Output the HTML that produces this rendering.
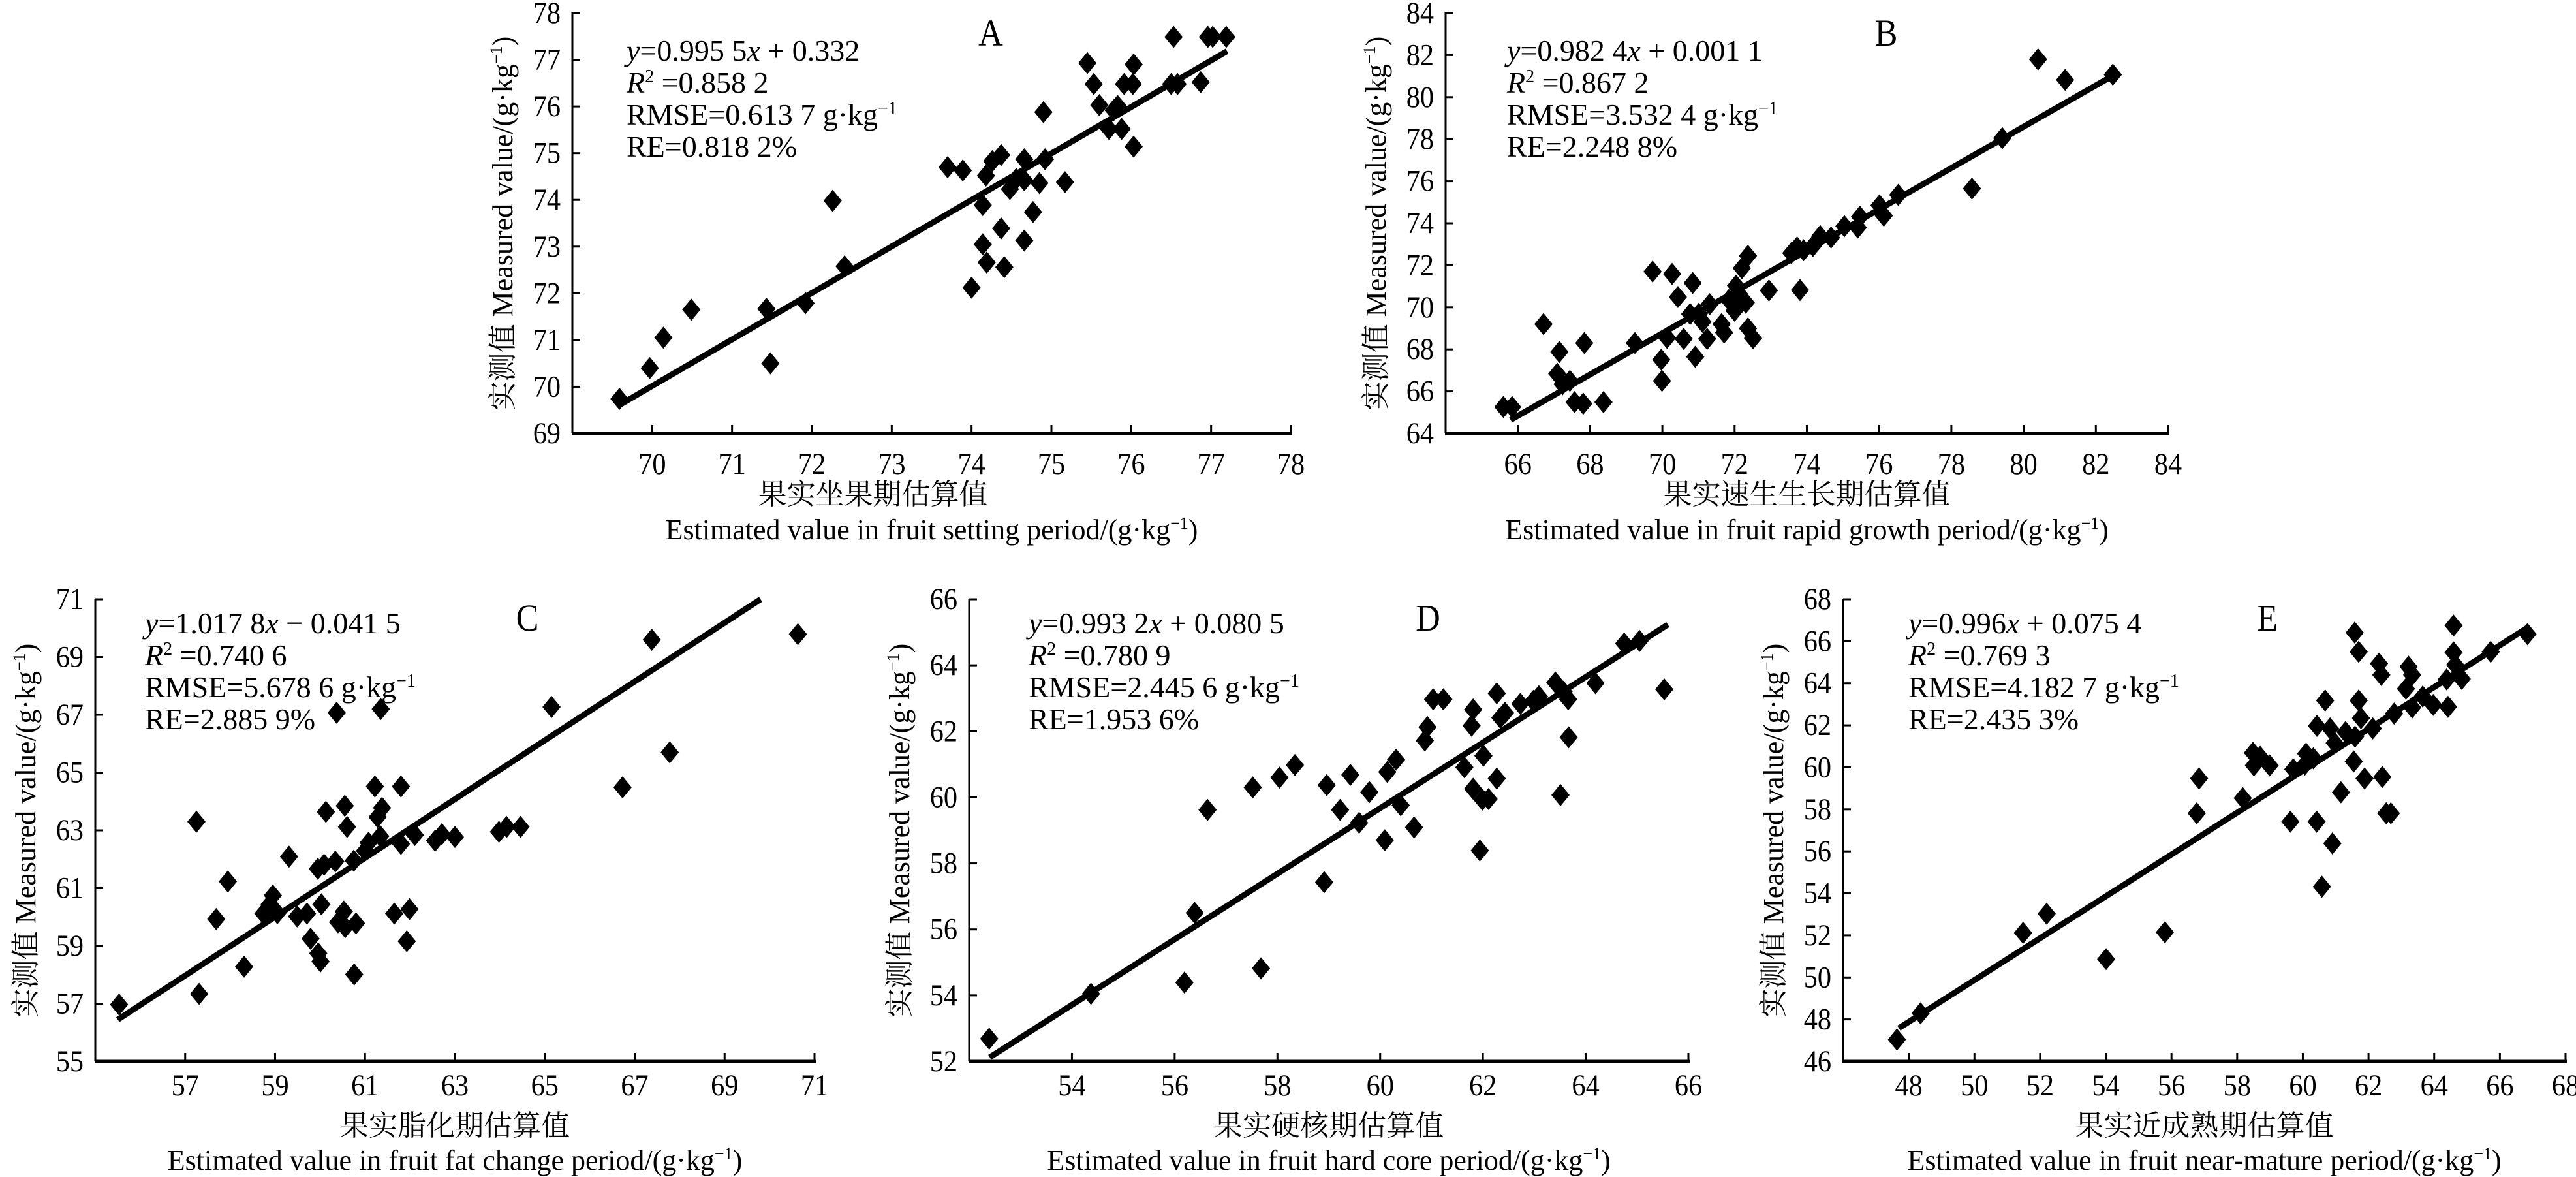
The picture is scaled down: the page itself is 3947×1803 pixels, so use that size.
<!DOCTYPE html>
<html>
<head>
<meta charset="utf-8">
<style>
  html,body{margin:0;padding:0;background:#fff;}
  svg{display:block;}
  text{font-family:"Liberation Serif","Noto Serif CJK SC",serif;fill:#000;}
</style>
</head>
<body>
<svg id="fig" xmlns="http://www.w3.org/2000/svg" width="3947" height="1803" viewBox="0 0 3947 1803">
  <rect x="0" y="0" width="3947" height="1803" fill="#fff"/>
</svg>
<script>
// ---------- data ----------
const aX=[69.59,69.97,70.14,70.49,71.43,71.48,71.92,72.26,72.41,73.70,73.89,74.00,74.14,74.14,74.18,74.19,74.26,74.37,74.37,74.41,74.48,74.56,74.66,74.66,74.66,74.77,74.85,74.90,74.92,75.17,75.45,75.53,75.60,75.72,75.78,75.83,75.88,75.91,76.02,76.03,76.03,76.50,76.53,76.58,76.87,76.96,77.02,77.19];
const aY=[69.74,70.40,71.05,71.65,71.67,70.50,71.79,73.98,72.58,74.70,74.63,72.12,73.89,73.05,74.52,72.66,74.83,74.96,73.39,72.56,74.23,74.45,74.87,73.13,74.42,73.74,74.36,75.88,74.87,74.38,76.93,76.48,76.03,75.52,75.92,76.01,75.52,76.48,76.48,76.90,75.14,76.48,77.49,76.48,76.52,77.49,77.49,77.49];

const bX=[65.60,65.84,66.71,67.15,67.09,67.24,67.44,67.57,67.81,67.84,68.37,69.24,69.73,69.97,69.99,70.13,70.27,70.43,70.59,70.84,70.77,70.91,71.01,71.11,71.24,71.31,71.64,71.71,71.84,72.00,72.04,72.13,72.20,72.31,72.37,72.37,72.51,72.95,73.57,73.73,73.81,73.91,74.17,74.37,74.67,75.04,75.41,75.47,76.01,76.13,76.53,78.57,79.41,80.40,81.15,82.47];
const bY=[65.26,65.26,69.20,67.88,66.84,66.34,66.50,65.49,65.42,68.30,65.49,68.30,71.70,67.51,66.50,68.55,71.59,70.49,68.50,71.16,69.68,67.65,69.70,69.31,68.50,70.15,69.20,68.80,70.35,69.84,71.03,70.62,71.86,70.22,72.45,69.00,68.53,70.80,72.58,72.85,70.82,72.72,72.92,73.39,73.32,73.86,73.80,74.31,74.85,74.36,75.35,75.65,78.05,81.80,80.82,81.07];

const cX=[55.53,57.25,57.31,57.69,57.95,58.31,58.74,58.88,58.95,59.05,59.31,59.49,59.71,59.79,59.95,59.96,60.01,60.03,60.09,60.13,60.34,60.37,60.40,60.53,60.55,60.56,60.60,60.75,60.76,60.80,61.00,61.08,61.22,61.28,61.34,61.35,61.38,61.65,61.80,61.80,61.93,61.99,62.11,62.56,62.71,63.00,63.98,64.15,64.46,65.15,66.73,67.38,67.78,70.63];
const cY=[56.97,63.30,57.34,59.93,61.23,58.28,60.12,60.44,60.75,60.13,62.09,60.02,60.12,59.25,61.67,58.74,58.46,60.44,61.81,63.64,61.92,67.07,59.82,60.19,63.85,59.65,63.12,61.95,58.01,59.78,62.29,62.57,64.52,63.46,62.80,67.20,63.78,60.12,64.52,62.53,59.16,60.27,62.84,62.64,62.87,62.77,62.95,63.12,63.12,67.27,64.49,69.60,65.70,69.79];

const dX=[52.39,54.37,56.19,56.39,56.64,57.52,57.68,58.04,58.34,58.91,58.96,59.22,59.42,59.59,59.79,60.09,60.14,60.31,60.40,60.66,60.87,60.92,61.03,61.23,61.64,61.78,61.81,61.81,61.94,61.99,62.01,62.11,62.27,62.27,62.34,62.43,62.73,62.98,63.09,63.41,63.51,63.57,63.66,63.67,64.19,64.75,65.05,65.53];
const dY=[52.69,54.05,54.39,56.50,59.62,60.30,54.82,60.60,60.98,57.43,60.37,59.62,60.68,59.23,60.16,58.70,60.77,61.14,59.76,59.09,61.72,62.13,62.97,62.97,60.91,62.17,62.66,60.26,58.39,59.93,61.26,59.95,63.15,60.57,62.41,62.56,62.83,62.92,63.06,63.48,60.07,63.20,62.97,61.82,63.46,64.66,64.74,63.27];

const eX=[47.64,48.36,51.48,52.20,54.01,55.80,56.77,56.84,58.17,58.48,58.51,58.70,58.99,59.62,59.71,60.06,60.10,60.32,60.42,60.43,60.58,60.68,60.83,60.90,60.97,61.16,61.30,61.55,61.58,61.59,61.70,61.70,61.77,61.88,62.13,62.32,62.39,62.42,62.54,62.68,62.78,63.14,63.22,63.33,63.33,63.65,63.97,64.38,64.42,64.59,64.59,64.64,64.84,65.72,66.84];
const eY=[47.04,48.29,52.12,53.03,50.87,52.15,57.81,59.47,58.54,60.69,60.09,60.50,60.09,57.41,59.91,60.13,60.65,60.43,57.41,61.97,54.32,63.18,61.85,56.38,61.16,58.81,61.68,60.28,66.41,61.46,65.50,63.18,62.34,59.47,61.85,64.94,64.40,59.54,57.81,57.81,62.56,63.74,64.79,62.85,64.40,63.37,62.97,64.18,62.88,66.75,65.47,64.88,64.21,65.50,66.34];

const fitSlope=[0.9955,0.9824,1.0178,0.9932,0.996];
const fitIntercept=[0.332,0.0011,-0.0415,0.0805,0.0754];
const fitXmin=[69.6,65.8,55.5,52.4,47.7];
const fitXmax=[77.2,82.4,69.8,65.6,66.9];

const xTicksA=[70,71,72,73,74,75,76,77,78], yTicksA=[69,70,71,72,73,74,75,76,77,78];
const xTicksB=[66,68,70,72,74,76,78,80,82,84], yTicksB=[64,66,68,70,72,74,76,78,80,82,84];
const xTicksC=[57,59,61,63,65,67,69,71], yTicksC=[55,57,59,61,63,65,67,69,71];
const xTicksD=[54,56,58,60,62,64,66], yTicksD=[52,54,56,58,60,62,64,66];
const xTicksE=[48,50,52,54,56,58,60,62,64,66,68], yTicksE=[46,48,50,52,54,56,58,60,62,64,66,68];

const eqLines=[
 ['<tspan font-style="italic">y</tspan>=0.995 5<tspan font-style="italic">x</tspan> + 0.332','<tspan font-style="italic">R</tspan><tspan font-size="28" dy="-16">2</tspan><tspan dy="16"> =0.858 2</tspan>','RMSE=0.613 7 g·kg<tspan font-size="28" dy="-16">−1</tspan>','RE=0.818 2%'],
 ['<tspan font-style="italic">y</tspan>=0.982 4<tspan font-style="italic">x</tspan> + 0.001 1','<tspan font-style="italic">R</tspan><tspan font-size="28" dy="-16">2</tspan><tspan dy="16"> =0.867 2</tspan>','RMSE=3.532 4 g·kg<tspan font-size="28" dy="-16">−1</tspan>','RE=2.248 8%'],
 ['<tspan font-style="italic">y</tspan>=1.017 8<tspan font-style="italic">x</tspan> − 0.041 5','<tspan font-style="italic">R</tspan><tspan font-size="28" dy="-16">2</tspan><tspan dy="16"> =0.740 6</tspan>','RMSE=5.678 6 g·kg<tspan font-size="28" dy="-16">−1</tspan>','RE=2.885 9%'],
 ['<tspan font-style="italic">y</tspan>=0.993 2<tspan font-style="italic">x</tspan> + 0.080 5','<tspan font-style="italic">R</tspan><tspan font-size="28" dy="-16">2</tspan><tspan dy="16"> =0.780 9</tspan>','RMSE=2.445 6 g·kg<tspan font-size="28" dy="-16">−1</tspan>','RE=1.953 6%'],
 ['<tspan font-style="italic">y</tspan>=0.996<tspan font-style="italic">x</tspan> + 0.075 4','<tspan font-style="italic">R</tspan><tspan font-size="28" dy="-16">2</tspan><tspan dy="16"> =0.769 3</tspan>','RMSE=4.182 7 g·kg<tspan font-size="28" dy="-16">−1</tspan>','RE=2.435 3%']
];
const cnTitles=['果实坐果期估算值','果实速生生长期估算值','果实脂化期估算值','果实硬核期估算值','果实近成熟期估算值'];
const enTitles=['Estimated value in fruit setting period/(g·kg','Estimated value in fruit rapid growth period/(g·kg','Estimated value in fruit fat change period/(g·kg','Estimated value in fruit hard core period/(g·kg','Estimated value in fruit near-mature period/(g·kg'];
const panelLetters=['A','B','C','D','E'];

// ---------- layout (pixels) ----------
const layout=[
 {key:'a',x0:877,x1:1978,y0:664,y1:20,xmin:69,xmax:78,ymin:69,ymax:78,xs:aX,ys:aY,xt:xTicksA,yt:yTicksA,eqX:960,eqY:93,letX:1518,letY:52,row:0,cnShift:-90},
 {key:'b',x0:2215,x1:3322,y0:664,y1:20,xmin:64,xmax:84,ymin:64,ymax:84,xs:bX,ys:bY,xt:xTicksB,yt:yTicksB,eqX:2309,eqY:93,letX:2890,letY:52,row:0,cnShift:0},
 {key:'c',x0:146,x1:1248,y0:1626,y1:918,xmin:55,xmax:71,ymin:55,ymax:71,xs:cX,ys:cY,xt:xTicksC,yt:yTicksC,eqX:222,eqY:970,letX:808,letY:948,row:1,cnShift:0},
 {key:'d',x0:1485,x1:2587,y0:1626,y1:918,xmin:52,xmax:66,ymin:52,ymax:66,xs:dX,ys:dY,xt:xTicksD,yt:yTicksD,eqX:1576,eqY:970,letX:2188,letY:948,row:1,cnShift:0},
 {key:'e',x0:2824,x1:3931,y0:1626,y1:918,xmin:46,xmax:68,ymin:46,ymax:68,xs:eX,ys:eY,xt:xTicksE,yt:yTicksE,eqX:2924,eqY:970,letX:3474,letY:948,row:1,cnShift:0}
];

const NS='http://www.w3.org/2000/svg';
const svg=document.getElementById('fig');

function mk(tag,parent){const e=document.createElementNS(NS,tag);parent.appendChild(e);return e;}

function txt(parent,x,y,html,size,anchor,sx,rot){
  const t=mk('text',parent);
  let tr='translate('+x+','+y+')';
  if(rot) tr+=' rotate('+rot+')';
  tr+=' scale('+sx+',1)';
  t.setAttribute('transform',tr);
  t.setAttribute('font-size',size);
  t.setAttribute('text-anchor',anchor);
  t.innerHTML=html;
  return t;
}

layout.forEach((p,i)=>{
  const sx=v=>p.x0+(v-p.xmin)/(p.xmax-p.xmin)*(p.x1-p.x0);
  const sy=v=>p.y0-(v-p.ymin)/(p.ymax-p.ymin)*(p.y0-p.y1);
  const g=mk('g',svg);
  
  

  const ax=mk('line',g);
  
  
  ax.setAttribute('x1',p.x0-1);ax.setAttribute('x2',p.x1+2);ax.setAttribute('y1',p.y0);ax.setAttribute('y2',p.y0);
  ax.setAttribute('stroke','#000');ax.setAttribute('stroke-width',5);
  const ay=mk('line',g);
  
  
  ay.setAttribute('x1',p.x0);ay.setAttribute('x2',p.x0);ay.setAttribute('y1',p.y0);ay.setAttribute('y2',p.y1-1);
  ay.setAttribute('stroke','#000');ay.setAttribute('stroke-width',3);

  p.xt.forEach(v=>{
    const l=mk('line',g);
    
    
    l.setAttribute('x1',sx(v));l.setAttribute('x2',sx(v));l.setAttribute('y1',p.y0);l.setAttribute('y2',p.y0-13);
    l.setAttribute('stroke','#000');l.setAttribute('stroke-width',3);
    const t=txt(g,sx(v),p.y0+(p.row?52:62),String(v),47,'middle',0.9,0);
    
    
  });
  p.yt.forEach(v=>{
    const l=mk('line',g);
    
    
    l.setAttribute('x1',p.x0);l.setAttribute('x2',p.x0+12);l.setAttribute('y1',sy(v));l.setAttribute('y2',sy(v));
    l.setAttribute('stroke','#000');l.setAttribute('stroke-width',3);
    const t=txt(g,p.x0-18,sy(v)+15,String(v),47,'end',0.9,0);
    
    
  });

  const fl=mk('line',g);
  
  
  fl.setAttribute('x1',sx(fitXmin[i]));fl.setAttribute('y1',sy(fitSlope[i]*fitXmin[i]+fitIntercept[i]));
  fl.setAttribute('x2',sx(fitXmax[i]));fl.setAttribute('y2',sy(fitSlope[i]*fitXmax[i]+fitIntercept[i]));
  fl.setAttribute('stroke','#000');fl.setAttribute('stroke-width',9);

  p.xs.forEach((xv,k)=>{
    const cx=sx(xv), cy=sy(p.ys[k]);
    const d=mk('path',g);
    
    
    d.setAttribute('d','M'+cx+','+(cy-17)+' L'+(cx+14)+','+cy+' L'+cx+','+(cy+17)+' L'+(cx-14)+','+cy+' Z');
    d.setAttribute('fill','#000');
  });

  const lt=txt(g,p.letX,p.letY+18,panelLetters[i],58,'middle',0.9,0);
  
  

  eqLines[i].forEach((s,k)=>{
    const t=txt(g,p.eqX,p.eqY+k*49,s,46,'start',1.0,0);
    
    
  });

  const cxm=(p.x0+p.x1)/2;
  const cn=txt(g,cxm+p.cnShift,p.y0+(p.row?113:108),cnTitles[i],44,'middle',1.0,0);
  
  
  const en=txt(g,cxm,p.y0+(p.row?166:162),enTitles[i]+'<tspan font-size="26" dy="-16">−1</tspan><tspan dy="16">)</tspan>',44,'middle',1.0,0);
  
  
  const yt=txt(g,p.x0-92,(p.y0+p.y1)/2,'实测值 Measured value/(g·kg<tspan font-size="26" dy="-16">−1</tspan><tspan dy="16">)</tspan>',44,'middle',1.0,-90);
  
  
});
</script>
</body>
</html>
